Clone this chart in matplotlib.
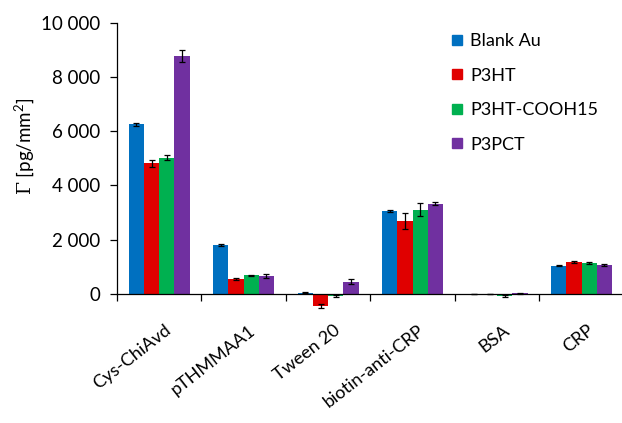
import numpy as np
import matplotlib.pyplot as plt
import matplotlib.transforms as mtransforms
from matplotlib.lines import Line2D

plt.rcParams['font.family'] = ['Lato', 'DejaVu Sans']
plt.rcParams['mathtext.fontset'] = 'dejavuserif'

categories = ['Cys-ChiAvd', 'pTHMMAA1', 'Tween 20', 'biotin-anti-CRP', 'BSA', 'CRP']
series = ['Blank Au', 'P3HT', 'P3HT-COOH15', 'P3PCT']
colors = ['#0070C0', '#E00000', '#00B050', '#7030A0']

blank_au = [6250, 1800, 40, 3060, -15, 1030]
p3ht = [4810, 540, -450, 2700, -10, 1170]
p3ht_cooh15 = [5030, 680, -80, 3110, -80, 1130]
p3pct = [8780, 650, 440, 3330, 15, 1070]

blank_au_err = [40, 50, 15, 40, 10, 20]
p3ht_err = [130, 40, 80, 300, 15, 50]
p3ht_cooh15_err = [100, 30, 40, 230, 25, 40]
p3pct_err = [230, 70, 90, 60, 10, 40]

values = [blank_au, p3ht, p3ht_cooh15, p3pct]
errors = [blank_au_err, p3ht_err, p3ht_cooh15_err, p3pct_err]

fig = plt.figure(figsize=(6.22, 4.23), dpi=100)
ax = fig.add_axes([0.188, 0.267, 0.815, 0.679])

x = np.arange(len(categories))
w = 0.18
for i, (vals, errs) in enumerate(zip(values, errors)):
    offs = (i - 1.5) * w
    ax.bar(x + offs, vals, w, color=colors[i], label=series[i], zorder=2)
    ax.errorbar(x + offs, vals, yerr=errs, fmt='none', ecolor='black',
                elinewidth=0.9, capsize=2, capthick=0.9, zorder=3)

ax.set_xlim(-0.5, len(categories) - 0.5)
ax.set_ylim(-600, 10000)

for s in ['top', 'right']:
    ax.spines[s].set_visible(False)
ax.spines['bottom'].set_position(('data', 0))
ax.spines['left'].set_bounds(0, 10000)
ax.spines['left'].set_linewidth(0.9)
ax.spines['bottom'].set_linewidth(0.9)

ax.set_yticks([0, 2000, 4000, 6000, 8000, 10000])
ax.set_yticklabels(['0', '2 000', '4 000', '6 000', '8 000', '10 000'])
ax.tick_params(axis='y', direction='out', length=5, width=0.9, labelsize=13.5, pad=7)

# boundary ticks like Excel, labels on category centres
ax.set_xticks(np.arange(len(categories) + 1) - 0.5)
ax.set_xticklabels([])
ax.tick_params(axis='x', which='major', direction='out', length=5, width=0.9)
ax.set_xticks(x, minor=True)
ax.set_xticklabels(categories, minor=True, rotation=38, ha='right',
                   va='center', rotation_mode='anchor', fontsize=13)
ax.tick_params(axis='x', which='minor', length=0, pad=25)
shift = mtransforms.ScaledTranslation(0.10, 0, fig.dpi_scale_trans)
for lbl in ax.get_xticklabels(minor=True):
    lbl.set_transform(lbl.get_transform() + shift)

ax.set_ylabel(r'$\mathit{\Gamma}$ [pg/mm$^\mathregular{2}$]', fontsize=13.5)
ax.yaxis.set_label_coords(-0.16, 0.57)

handles = [Line2D([], [], marker='s', linestyle='none', markersize=7.5,
                  markerfacecolor=c, markeredgecolor=c) for c in colors]
ax.legend(handles, series, loc='upper left', bbox_to_anchor=(0.625, 1.02),
          frameon=False, fontsize=13, labelspacing=1.02, handletextpad=0.3,
          handlelength=0.8)

fig.savefig('out.png', dpi=100)
